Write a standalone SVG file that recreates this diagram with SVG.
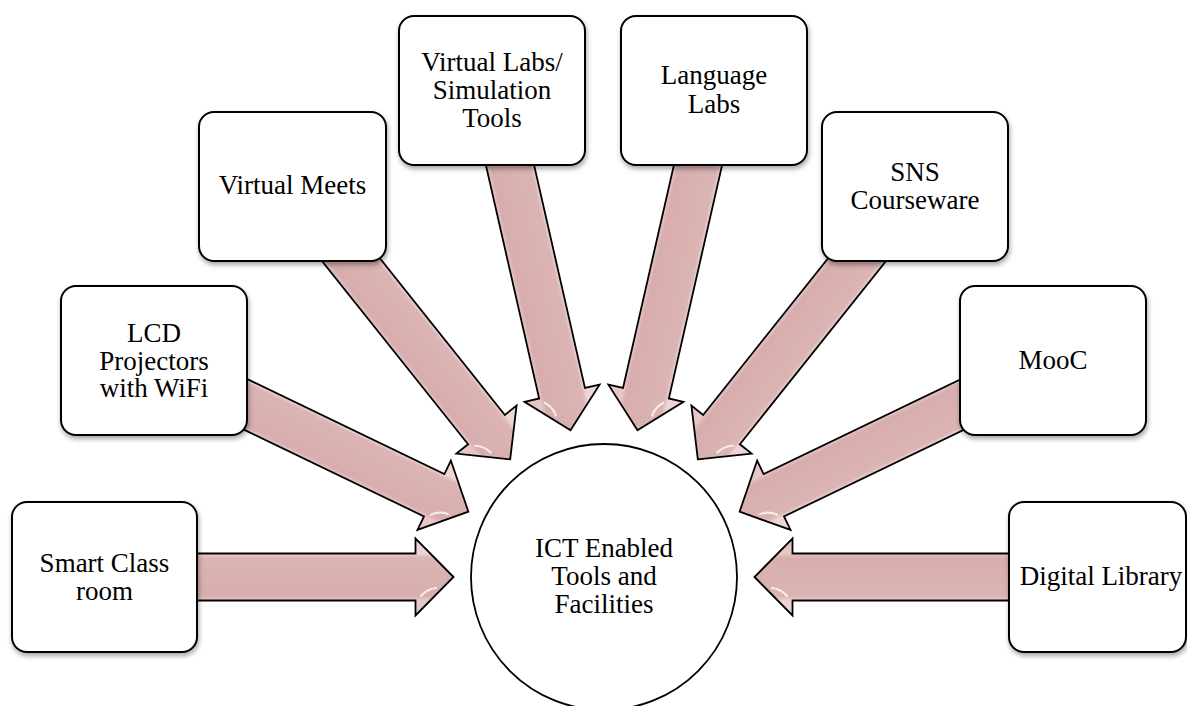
<svg xmlns="http://www.w3.org/2000/svg" width="1187" height="706" viewBox="0 0 1187 706">
  <defs>
    <linearGradient id="shaftGrad" gradientUnits="userSpaceOnUse" x1="0" y1="553.5" x2="0" y2="600.5">
      <stop offset="0" stop-color="#edd5d5"/>
      <stop offset="0.09" stop-color="#dbb4b4"/>
      <stop offset="0.9" stop-color="#d8adad"/>
      <stop offset="1" stop-color="#e6c7c7"/>
    </linearGradient>
    <filter id="shadow" x="-10%" y="-10%" width="125%" height="130%">
      <feDropShadow dx="1" dy="3" stdDeviation="2.5" flood-color="#000" flood-opacity="0.35"/>
    </filter>
    <path id="arrow" d="M453.5,577 L415.5,538.5 L415.5,553.5 L154,553.5 L154,600.5 L415.5,600.5 L415.5,615.5 Z"/>
  </defs>
  <style>
    .arr { fill: url(#shaftGrad); stroke: #000; stroke-width: 1.8; stroke-linejoin: miter; }
    .hl { fill: none; stroke: #fff; stroke-width: 2.2; stroke-linecap: round; opacity: 0.75; }
    .box { fill: #fff; stroke: #000; stroke-width: 2; filter: url(#shadow); }
    .circ { fill: #fff; stroke: #000; stroke-width: 1.8; }
    .lbl { font-family: "Liberation Serif", "Times New Roman", serif; font-size: 27px; fill: #000; text-anchor: middle; }
  </style>
  <rect width="1187" height="706" fill="#fff"/>

  <g id="connectors">
    <g transform="rotate(0 604 577)"><use href="#arrow" class="arr"/><path class="hl" d="M421,596 Q427,589 436,588"/></g>
    <g transform="rotate(25.714 604 577)"><use href="#arrow" class="arr"/><path class="hl" d="M421,596 Q427,589 436,588"/></g>
    <g transform="rotate(51.429 604 577)"><use href="#arrow" class="arr"/><path class="hl" d="M421,596 Q427,589 436,588"/></g>
    <g transform="rotate(77.143 604 577)"><use href="#arrow" class="arr"/><path class="hl" d="M421,596 Q427,589 436,588"/></g>
    <g transform="rotate(102.857 604 577)"><use href="#arrow" class="arr"/><path class="hl" d="M421,558 Q427,565 436,566"/></g>
    <g transform="rotate(128.571 604 577)"><use href="#arrow" class="arr"/><path class="hl" d="M421,558 Q427,565 436,566"/></g>
    <g transform="rotate(154.286 604 577)"><use href="#arrow" class="arr"/><path class="hl" d="M421,558 Q427,565 436,566"/></g>
    <g transform="rotate(180 604 577)"><use href="#arrow" class="arr"/><path class="hl" d="M421,558 Q427,565 436,566"/></g>
  </g>

  <g id="node-center">
    <circle class="circ" cx="604" cy="577" r="133"/>
    <text class="lbl" x="604" y="557">ICT Enabled</text>
    <text class="lbl" x="604" y="585">Tools and</text>
    <text class="lbl" x="604" y="613">Facilities</text>
  </g>

  <g id="node-smart-class">
    <rect class="box" x="12" y="502" width="185" height="150" rx="15"/>
    <text class="lbl" x="104.5" y="572">Smart Class</text>
    <text class="lbl" x="104.5" y="599.5">room</text>
  </g>

  <g id="node-lcd">
    <rect class="box" x="61" y="286" width="186" height="149" rx="15"/>
    <text class="lbl" x="154" y="342">LCD</text>
    <text class="lbl" x="154" y="369.5">Projectors</text>
    <text class="lbl" x="154" y="397">with WiFi</text>
  </g>

  <g id="node-virtual-meets">
    <rect class="box" x="199" y="112" width="187" height="149" rx="15"/>
    <text class="lbl" x="292.5" y="194">Virtual Meets</text>
  </g>

  <g id="node-virtual-labs">
    <rect class="box" x="399" y="16" width="186" height="149" rx="15"/>
    <text class="lbl" x="492" y="71">Virtual Labs/</text>
    <text class="lbl" x="492" y="99">Simulation</text>
    <text class="lbl" x="492" y="127">Tools</text>
  </g>

  <g id="node-language-labs">
    <rect class="box" x="621" y="16" width="186" height="149" rx="15"/>
    <text class="lbl" x="714" y="84">Language</text>
    <text class="lbl" x="714" y="113">Labs</text>
  </g>

  <g id="node-sns">
    <rect class="box" x="822" y="112" width="186" height="149" rx="15"/>
    <text class="lbl" x="915" y="181">SNS</text>
    <text class="lbl" x="915" y="209">Courseware</text>
  </g>

  <g id="node-mooc">
    <rect class="box" x="960" y="286" width="186" height="149" rx="15"/>
    <text class="lbl" x="1053" y="369">MooC</text>
  </g>

  <g id="node-digital-library">
    <rect class="box" x="1009" y="502" width="177" height="150" rx="15"/>
    <text class="lbl" x="1101" y="585">Digital Library</text>
  </g>
</svg>
